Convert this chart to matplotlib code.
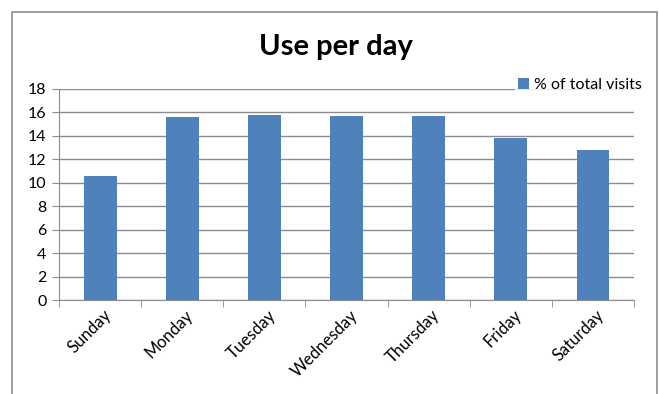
import matplotlib
matplotlib.use("Agg")
import matplotlib.pyplot as plt
from matplotlib.lines import Line2D
import matplotlib.transforms as mtransforms
import numpy as np

days = ["Sunday", "Monday", "Tuesday", "Wednesday", "Thursday", "Friday", "Saturday"]
visits = [10.55, 15.6, 15.78, 15.7, 15.7, 13.78, 12.83]
yticks = [0, 2, 4, 6, 8, 10, 12, 14, 16, 18]

W, H = 659, 394
fig = plt.figure(figsize=(W / 100, H / 100), dpi=100)
plt.rcParams['font.family'] = ['Lato', 'DejaVu Sans']

ax = fig.add_axes([59 / W, (H - 300) / H, (634 - 59) / W, (300 - 89) / H])
x = np.arange(len(days))
bars = ax.bar(x, visits, width=0.4, color="#4F81BD", zorder=3, label="% of total visits")

ax.set_ylim(0, 18)
ax.set_xlim(-0.5, len(days) - 0.5)
ax.set_yticks(yticks)
ax.set_yticklabels([str(v) for v in yticks], fontsize=11.5)
ax.yaxis.grid(True, color="#8c8c8c", linewidth=1.0, zorder=0)
ax.set_axisbelow(True)

ax.set_xticks(x)
ax.set_xticklabels(days, rotation=45, ha="right", va="top", rotation_mode="anchor", fontsize=12)
ax.set_xticks(np.arange(-0.5, len(days), 1.0), minor=True)
ax.tick_params(axis="x", which="major", length=0, pad=5)
ax.tick_params(axis="x", which="minor", length=5, color="#8c8c8c", direction="out")
ax.tick_params(axis="y", length=5, color="#8c8c8c", direction="out", pad=4)

for s in ["top", "right"]:
    ax.spines[s].set_visible(False)
ax.spines["left"].set_color("#8c8c8c")
ax.spines["bottom"].set_color("#8c8c8c")

offset = mtransforms.ScaledTranslation(3 / 100, 0, fig.dpi_scale_trans)
for lbl in ax.get_xticklabels():
    lbl.set_transform(lbl.get_transform() + offset)

fig.text(336 / W, 1 - 47 / H, "Use per day", ha="center", va="center",
         fontsize=21, fontweight="bold")

leg = fig.legend(handles=[bars], labels=["% of total visits"], loc="center right",
                 bbox_to_anchor=(645 / W, 1 - 85 / H), frameon=True, fontsize=11.5,
                 handlelength=0.7, handleheight=0.7, handletextpad=0.3, borderpad=0.2,
                 borderaxespad=0)
leg.get_frame().set_edgecolor("white")
leg.get_frame().set_facecolor("white")
leg.set_zorder(5)

border = Line2D([12 / W, 12 / W, 657 / W, 657 / W], [0, 1 - 12 / H, 1 - 12 / H, 0],
                transform=fig.transFigure, color="#8c8c8c", linewidth=1.2)
fig.add_artist(border)

fig.savefig("out.png", dpi=100)
